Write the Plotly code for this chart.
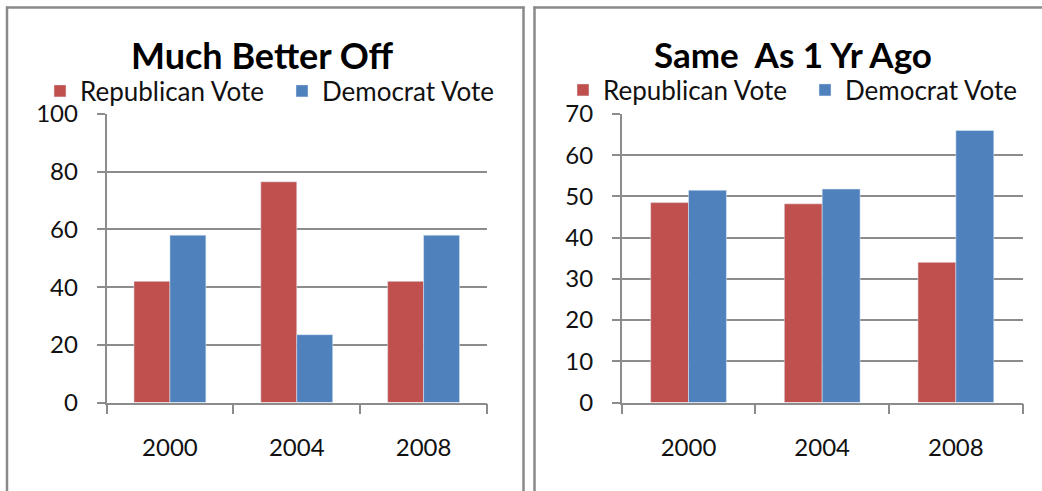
import plotly.graph_objects as go

# Survey data: vote share by self-reported financial situation
years = ["2000", "2004", "2008"]
better_rep = [42, 76.5, 42]
better_dem = [58, 23.5, 58]
same_rep = [48.5, 48.2, 34]
same_dem = [51.5, 51.8, 66]

left_title = "Much Better Off"
right_title = "Same\u00a0 As 1 Yr Ago"
rep_name = "Republican Vote"
dem_name = "Democrat Vote"

RED = "#C0504D"
BLUE = "#4F81BD"
GRID = "#8c8c8c"
FRAME = "#8a8a8a"
FONT = "Lato, 'Open Sans', sans-serif"

W, H = 1042, 491


def px_x(p):
    return p / W


def px_y(p):
    return 1 - p / H


fig = go.Figure()

fig.add_trace(go.Bar(x=years, y=better_rep, name=rep_name, marker_color=RED,
                     xaxis="x", yaxis="y", legend="legend"))
fig.add_trace(go.Bar(x=years, y=better_dem, name=dem_name, marker_color=BLUE,
                     xaxis="x", yaxis="y", legend="legend"))
fig.add_trace(go.Bar(x=years, y=same_rep, name=rep_name, marker_color=RED,
                     xaxis="x2", yaxis="y2", legend="legend2"))
fig.add_trace(go.Bar(x=years, y=same_dem, name=dem_name, marker_color=BLUE,
                     xaxis="x2", yaxis="y2", legend="legend2"))

ydom = [px_y(402.5), px_y(114)]

xcommon = dict(type="category", showline=True, linecolor=GRID, linewidth=1.5,
               ticks="outside", tickson="boundaries", ticklen=10, tickcolor=GRID,
               tickwidth=1.5, showgrid=False, ticklabelstandoff=23,
               tickfont=dict(size=24, color="#111", family=FONT), fixedrange=True,
               automargin=False)
ycommon = dict(showline=True, linecolor=GRID, linewidth=1.5, ticks="outside",
               ticklen=8, tickcolor=GRID, tickwidth=1.5, showgrid=True,
               gridcolor=GRID, gridwidth=1.5, zeroline=False,
               ticklabelstandoff=14, automargin=False,
               tickfont=dict(size=24, color="#111", family=FONT), fixedrange=True)

legend_common = dict(orientation="h", xanchor="left", yanchor="middle",
                     entrywidth=197, entrywidthmode="pixels",
                     font=dict(size=26, family=FONT, color="#111"),
                     bgcolor="rgba(0,0,0,0)", itemclick=False,
                     itemdoubleclick=False)

fig.update_layout(
    width=W, height=H,
    margin=dict(l=0, r=0, t=0, b=0, pad=0, autoexpand=False),
    paper_bgcolor="white", plot_bgcolor="white",
    barmode="group", bargap=0.433, bargroupgap=0,
    font=dict(family=FONT, color="#111"),
    xaxis=dict(domain=[px_x(106.5), px_x(487)], anchor="y", **xcommon),
    yaxis=dict(domain=ydom, anchor="x", range=[0, 100], dtick=20, **ycommon),
    xaxis2=dict(domain=[px_x(621.7), px_x(1022.7)], anchor="y2", **xcommon),
    yaxis2=dict(domain=ydom, anchor="x2", range=[0, 70], dtick=10, **ycommon),
    legend=dict(x=px_x(40), y=px_y(91), **legend_common),
    legend2=dict(x=px_x(563), y=px_y(90), **legend_common),
    annotations=[
        dict(text="<b>%s</b>" % left_title, x=px_x(262), y=px_y(55),
             xref="paper", yref="paper", showarrow=False,
             xanchor="center", yanchor="middle",
             font=dict(size=36, family=FONT, color="#000")),
        dict(text="<b>%s</b>" % right_title, x=px_x(793), y=px_y(54),
             xref="paper", yref="paper", showarrow=False,
             xanchor="center", yanchor="middle",
             font=dict(size=35, family=FONT, color="#000")),
    ],
    shapes=[
        # panel frames
        dict(type="line", xref="paper", yref="paper", x0=px_x(7), x1=px_x(7),
             y0=px_y(6.5), y1=0, line=dict(color=FRAME, width=2.5)),
        dict(type="line", xref="paper", yref="paper", x0=px_x(6), x1=px_x(524.5),
             y0=px_y(7.5), y1=px_y(7.5), line=dict(color=FRAME, width=2.5)),
        dict(type="line", xref="paper", yref="paper", x0=px_x(523.5), x1=px_x(523.5),
             y0=px_y(6.5), y1=0, line=dict(color=FRAME, width=2.5)),
        dict(type="line", xref="paper", yref="paper", x0=px_x(534.5), x1=px_x(534.5),
             y0=px_y(6.5), y1=0, line=dict(color=FRAME, width=2.5)),
        dict(type="line", xref="paper", yref="paper", x0=px_x(533.5), x1=1,
             y0=px_y(7.5), y1=px_y(7.5), line=dict(color=FRAME, width=2.5)),
    ],
)

fig.write_html("out.html", config={"displayModeBar": False})
